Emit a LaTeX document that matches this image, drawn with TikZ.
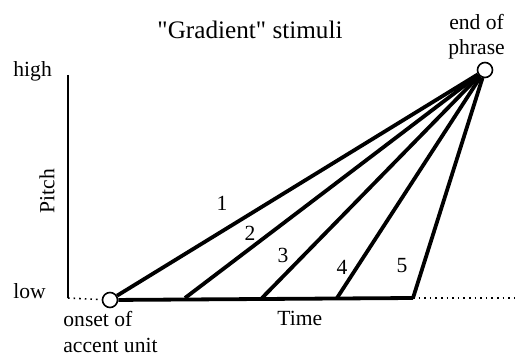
\documentclass[tikz,border=0pt]{standalone}
\usepackage{fontspec}
\setmainfont{Liberation Serif}
\usetikzlibrary{positioning}

\begin{document}
\begin{tikzpicture}[x=0.5pt,y=-0.5pt,font=\fontsize{10.8}{13}\selectfont,
  pt/.style={circle,draw,fill=white,line width=0.8pt,minimum size=7.5pt,inner sep=0pt},
  stim/.style={line width=1.9pt},
  lbl/.style={anchor=base west,inner sep=0pt}]
  \useasboundingbox (0,0) rectangle (519,358);
  % axes and end points
  \coordinate (top) at (68,75);   \coordinate (org) at (68,298);
  \node[pt] (o) at (110,300) {};  \node[pt] (e) at (485,70) {};
  \coordinate (b2) at (185,298);  \coordinate (b3) at (262,298);
  \coordinate (b4) at (337,298);  \coordinate (b5) at (413,298);
  \coordinate (rend) at (519,298);
  \draw[line width=1pt] (top) -- (org);
  \draw[dotted,line width=0.8pt] (org) -- (o);
  \draw[dotted,line width=0.8pt] (b5) -- (rend);
  \draw[stim] (o) -- (b5);
  \draw[stim] (o) -- (e);
  \foreach \b in {b2,b3,b4,b5} \draw[stim] (\b) -- (e);
  % labels
  \node[anchor=base,inner sep=0pt,font=\fontsize{12.6}{15}\selectfont] (title) at (250,39) {\textquotedbl Gradient\textquotedbl\ stimuli};
  \node[lbl] (high) at (13,77) {high};
  \node[lbl] (low) at (13,298) {low};
  \node[rotate=90,inner sep=0pt] (pitch) at (47,191) {Pitch};
  \node[lbl] (time) at (277,325) {Time};
  \node[lbl,align=left] (onset) at (63,352) {onset of\\accent unit};
  \node[lbl,align=center] (endp) at (448,55) {end of\\phrase};
  \node (n1) at (222,203) {1};
  \node (n2) at (250,233) {2};
  \node (n3) at (283,255) {3};
  \node (n4) at (342,267) {4};
  \node (n5) at (402,266) {5};
\end{tikzpicture}
\end{document}
